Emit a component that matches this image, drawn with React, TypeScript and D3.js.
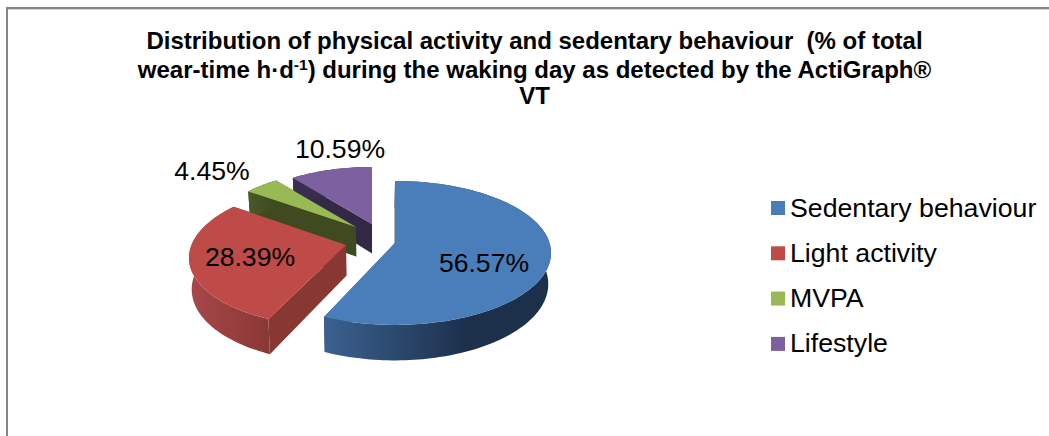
import React from "react";
import * as d3 from "d3";

const categories = ["Sedentary behaviour", "Light activity", "MVPA", "Lifestyle"];
const shares = [56.57, 28.39, 4.45, 10.59];
const topColors = ["#4a7ebb", "#be4b48", "#98b954", "#7d60a0"];
const cutColors = ["#1e3350", "#883733", "#3f4a20", "#332947"];
const wallFrom = ["#3b6190", "#a8474a", "#4a5826", "#3a2f52"];
const wallTo = ["#1c2f4b", "#8a3835", "#3f4a20", "#332947"];
const labelAnchors: [number, number][] = [[484, 272], [250, 266], [212, 180], [340, 158]];
const sliceApex: [number, number][] = [[395, 243], [346, 245], [356, 227], [372, 224]];
const sliceScale = [1, 1, 0.93, 0.92];
const sliceShear = [0, -0.09, 0, 0];

const R = 154.5, RC = 70.6, K = 0.138, DEPTH = 31, VX = 370;

const arcs = d3.pie<number>().sort(null).value((d) => d)(shares);
const line = d3.line<[number, number]>();
const fmt = d3.format(".2f");

function top(i: number, t: number): [number, number] {
  const s = (1 / (1 + K * Math.cos(t))) * sliceScale[i];
  const dy = -RC * Math.cos(t) * s;
  return [sliceApex[i][0] + R * Math.sin(t) * s + sliceShear[i] * dy, sliceApex[i][1] + dy];
}
function drop([x, y]: [number, number]): [number, number] {
  return [VX + (x - VX) * 0.985, y + DEPTH + (y - 250) * 0.06];
}
function rim(i: number, a: number, b: number) {
  const n = Math.max(8, Math.ceil((b - a) * 40));
  return d3.range(n + 1).map((j) => top(i, a + ((b - a) * j) / n));
}

export default function App() {
  const apexOf = (i: number) => sliceApex[i] as [number, number];
  const order = [3, 2, 1, 0];
  return (
    <svg width={1049} height={436} style={{ position: "absolute", left: 0, top: 0, background: "#fff" }} fontFamily="Liberation Sans, Arial, sans-serif">
      <defs>
        {arcs.map((a, i) => {
          const xs = rim(i, a.startAngle, a.endAngle).map((p) => p[0]);
          const e = d3.extent(xs) as [number, number];
          return (
            <linearGradient key={i} id={`wall${i}`} gradientUnits="userSpaceOnUse" x1={e[0]} x2={i === 0 ? 470 : e[1]} y1={0} y2={0}>
              <stop offset="0" stopColor={wallFrom[i]} />
              <stop offset="1" stopColor={wallTo[i]} />
            </linearGradient>
          );
        })}
      </defs>
      <line x1={7} y1={436} x2={7} y2={7} stroke="#868686" strokeWidth={2} />
      <line x1={6} y1={8} x2={1049} y2={8} stroke="#868686" strokeWidth={2} />
      <line x1={8} y1={9.5} x2={1049} y2={9.5} stroke="#d9d9d9" strokeWidth={1} />

      <g fontWeight="bold" fontSize={24} textAnchor="middle" fill="#000">
        <text x={534.5} y={49}>{"Distribution of physical activity and sedentary behaviour \u00a0(% of total"}</text>
        <text x={534.5} y={77.5}>
          wear-time h·d<tspan fontSize={15.5} dy={-8}>-1</tspan><tspan dy={8}>) during the waking day as detected by the ActiGraph®</tspan>
        </text>
        <text x={534.5} y={104}>VT</text>
      </g>

      {order.map((i) => {
        const a = arcs[i];
        const edge = rim(i, a.startAngle, a.endAngle);
        const apex = apexOf(i);
        const faceA = [apex, edge[0], drop(edge[0]), drop(apex)] as [number, number][];
        const last = edge[edge.length - 1];
        const faceB = [apex, last, drop(last), drop(apex)] as [number, number][];
        const wall = [...edge, ...edge.slice().reverse().map(drop)];
        return (
          <g key={i}>
            <path d={line(faceB) + "Z"} fill={cutColors[i]} />
            <path d={line(faceA) + "Z"} fill={cutColors[i]} />
            <path d={line(wall) + "Z"} fill={`url(#wall${i})`} />
            <path d={line([apex, ...edge]) + "Z"} fill={topColors[i]} />
          </g>
        );
      })}

      <g fontSize={26.6} textAnchor="middle" fill="#000">
        {shares.map((v, i) => (
          <text key={i} x={labelAnchors[i][0]} y={labelAnchors[i][1]}>{fmt(v)}%</text>
        ))}
      </g>

      {categories.map((c, i) => (
        <g key={c} transform={`translate(771,${201 + i * 45.3})`}>
          <rect width={14} height={14} fill={topColors[i]} />
          <text x={19} y={15.5} fontSize={26.7} fill="#000">{c}</text>
        </g>
      ))}
    </svg>
  );
}
